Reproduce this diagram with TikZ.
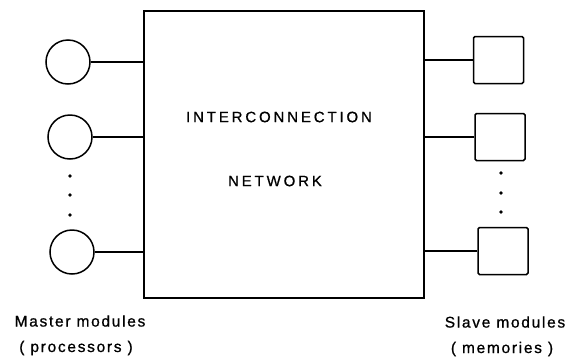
\documentclass[tikz,border=0pt]{standalone}
\usepackage{fontspec}
\setmainfont{Liberation Sans}
\begin{document}
\begin{tikzpicture}[x=1pt,y=-1pt,
  line width=1.5pt,
  master/.style={draw,circle,minimum size=44pt,inner sep=0pt},
  slave/.style={draw,rectangle,rounded corners=1.5pt,minimum width=50pt,minimum height=47pt,inner sep=0pt},
  netbox/.style={draw,rectangle,minimum width=280pt,minimum height=287pt,inner sep=0pt},
  dotmark/.style={fill,circle,minimum size=3.8pt,inner sep=0pt},
  caption/.style={font=\fontsize{15.5}{17}\selectfont\addfontfeatures{LetterSpace=11,FakeBold=0.8},inner sep=0pt},
  title/.style={font=\fontsize{15}{17}\selectfont\addfontfeatures{LetterSpace=19,FakeBold=0.8},inner sep=0pt}]
\useasboundingbox (0,0) rectangle (572,362);

% central network
\node[netbox] (net) at (284,154.5) {};
\node[title] (t1) at (279,117) {INTERCONNECTION};
\node[title] (t2) at (275,181) {NETWORK};

% master modules
\node[master] (m1) at (68,62) {};
\node[master] (m2) at (70,137) {};
\node[master] (m3) at (72,252) {};
\node[dotmark] (md1) at (70,176) {};
\node[dotmark] (md2) at (70,195) {};
\node[dotmark] (md3) at (70,215) {};

% slave modules
\node[slave] (s1) at (498.5,60) {};
\node[slave] (s2) at (500,137) {};
\node[slave] (s3) at (503,251) {};
\node[dotmark] (sd1) at (501,173) {};
\node[dotmark] (sd2) at (501,193) {};
\node[dotmark] (sd3) at (501,212) {};

% links
\foreach \m in {m1,m2,m3} \draw (\m.east) -- (\m.east -| net.west);
\foreach \s in {s1,s2,s3} \draw (\s.west) -- (\s.west -| net.east);

% captions
\node[caption] (c1) at (80,321) {Master modules};
\node[caption] (c2) at (76,348) {( processors )};
\node[caption] (c3) at (505,322) {Slave modules};
\node[caption] (c4) at (502,349) {( memories )};
\end{tikzpicture}
\end{document}
